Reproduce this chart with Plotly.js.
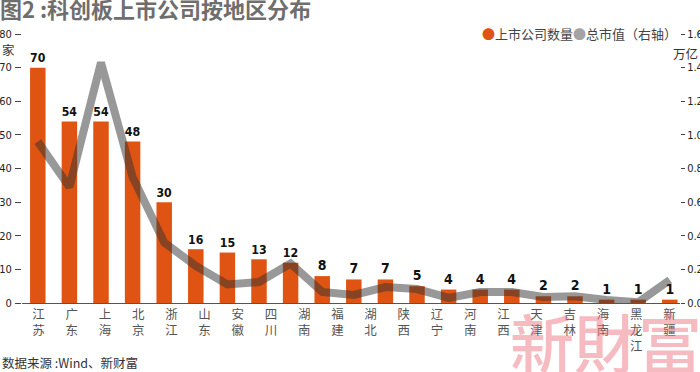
<!DOCTYPE html>
<html>
<head>
<meta charset="utf-8">
<script src="https://cdn.plot.ly/plotly-3.0.1.min.js"></script>
<style>
  html, body { margin: 0; padding: 0; background: #fff; }
  #chart { width: 700px; height: 372px; }
</style>
</head>
<body>
<div id="chart"></div>
<script>
// ---- Data ----
const regions = ['江苏','广东','上海','北京','浙江','山东','安徽','四川','湖南','福建','湖北','陕西','辽宁','河南','江西','天津','吉林','海南','黑龙江','新疆'];
const companyCounts = [70, 54, 54, 48, 30, 16, 15, 13, 12, 8, 7, 7, 5, 4, 4, 4, 2, 2, 1, 1, 1];
const marketCap = [0.96, 0.69, 1.43, 0.75, 0.36, 0.22, 0.11, 0.125, 0.235, 0.066, 0.048, 0.095, 0.083, 0.03, 0.065, 0.065, 0.036, 0.04, 0.018, 0.004, 0.137];
const seriesNames = ['上市公司数量', '总市值（右轴）'];
const leftTicks = [0, 10, 20, 30, 40, 50, 60, 70, 80];
const rightTicks = [0, 0.2, 0.4, 0.6, 0.8, 1.0, 1.2, 1.4, 1.6];

// ---- Layout helpers (pixel -> paper) ----
const W = 700, H = 372;
const M = { l: 22, r: 20, t: 34, b: 69 };
const PW = W - M.l - M.r, PH = H - M.t - M.b;
const px = x => (x - M.l) / PW;
const py = y => (H - M.b - y) / PH;

const NARROW = 'DejaVu Sans Condensed, Liberation Sans Narrow, Arial Narrow, sans-serif';
const CJK = 'Noto Sans CJK SC, sans-serif';

const barIdx = companyCounts.map((_, i) => i);

const traces = [
  {
    type: 'bar',
    x: barIdx,
    y: companyCounts,
    name: seriesNames[0],
    width: 0.49,
    marker: { color: '#df5412' },
    text: companyCounts.map(String),
    textposition: 'outside',
    cliponaxis: false,
    textfont: { family: NARROW, size: 14, color: '#111', weight: 'bold' },
    xaxis: 'x', yaxis: 'y',
    showlegend: false,
    hoverinfo: 'skip'
  },
  {
    type: 'scatter',
    mode: 'lines',
    x: barIdx,
    y: marketCap,
    name: seriesNames[1],
    line: { color: 'rgba(50,50,50,0.5)', width: 8 },
    xaxis: 'x', yaxis: 'y2',
    showlegend: false,
    hoverinfo: 'skip'
  },
  {
    // carries the region tick labels on the label axis
    type: 'scatter',
    mode: 'markers',
    x: regions,
    y: regions.map(() => 0),
    marker: { opacity: 0, size: 1 },
    xaxis: 'x2', yaxis: 'y',
    showlegend: false,
    hoverinfo: 'skip'
  }
];

const tickFont = { family: NARROW, size: 11, color: '#222' };

// range chosen so bar spacing ~31.6px, label spacing ~33.2px
const xMax = -0.5 + PW / 31.6;
const x2Max = -0.5 + PW / 33.2;

const layout = {
  width: W, height: H,
  margin: M,
  paper_bgcolor: '#fff',
  plot_bgcolor: 'rgba(0,0,0,0)',
  showlegend: false,
  title: {
    text: '<b>图2 :科创板上市公司按地区分布</b>',
    font: { family: CJK, size: 22, color: '#6e6e6e' },
    x: 0, xref: 'container', xanchor: 'left',
    y: 0.994, yref: 'container', yanchor: 'top',
    pad: { t: 0, l: 0 }
  },
  xaxis: {
    type: 'linear',
    range: [-0.5, xMax],
    showticklabels: false,
    ticks: '',
    showgrid: false,
    zeroline: false,
    showline: true,
    linecolor: '#555',
    linewidth: 1,
    fixedrange: true
  },
  xaxis2: {
    type: 'category',
    overlaying: 'x',
    anchor: 'y',
    side: 'bottom',
    range: [-0.5, x2Max],
    tickvals: regions,
    ticktext: regions.map(r => r.split('').join('<br>')),
    tickfont: { family: CJK, size: 12.5, color: '#555' },
    ticks: '',
    ticklabelstandoff: 2,
    showgrid: false,
    zeroline: false,
    showline: false
  },
  yaxis: {
    range: [0, 80],
    tickvals: leftTicks,
    ticktext: leftTicks.map(String),
    ticks: 'outside',
    ticklen: 6,
    tickwidth: 1,
    tickcolor: '#444',
    ticklabelstandoff: 1,
    tickfont: tickFont,
    showgrid: false,
    zeroline: false,
    showline: false
  },
  yaxis2: {
    overlaying: 'y',
    side: 'right',
    anchor: 'x',
    range: [0, 1.6],
    tickvals: rightTicks,
    ticktext: rightTicks.map(v => v.toFixed(1)),
    ticks: 'outside',
    ticklen: 4,
    tickwidth: 1,
    tickcolor: '#444',
    ticklabelstandoff: 0,
    tickfont: tickFont,
    showgrid: false,
    zeroline: false,
    showline: false
  },
  annotations: [
    {
      text: '新財富',
      xref: 'paper', yref: 'paper',
      x: px(508), y: py(292), xanchor: 'left', yanchor: 'top',
      showarrow: false,
      font: { family: 'Noto Sans CJK TC, sans-serif', size: 64, color: 'rgba(236,110,125,0.48)', weight: 500 }
    },
    {
      text: '<span style="color:#df5412">●</span>' + seriesNames[0] + '<span style="color:#a3a3a3">●</span>' + seriesNames[1],
      xref: 'paper', yref: 'paper',
      x: px(679), y: py(33), xanchor: 'right', yanchor: 'middle',
      showarrow: false,
      font: { family: CJK, size: 13, color: '#444' }
    },
    {
      text: '家',
      xref: 'paper', yref: 'paper',
      x: px(0), y: py(50), xanchor: 'left', yanchor: 'middle',
      showarrow: false,
      font: { family: CJK, size: 12.5, color: '#333' }
    },
    {
      text: '万亿',
      xref: 'paper', yref: 'paper',
      x: px(700), y: py(53), xanchor: 'right', yanchor: 'middle',
      showarrow: false,
      font: { family: CJK, size: 12.5, color: '#333' }
    },
    {
      text: '数据来源 :Wind、新财富',
      xref: 'paper', yref: 'paper',
      x: px(0), y: py(362), xanchor: 'left', yanchor: 'middle',
      showarrow: false,
      font: { family: CJK, size: 12.5, color: '#333' }
    }
  ]
};

Plotly.newPlot('chart', traces, layout, { staticPlot: true, displayModeBar: false });
</script>
</body>
</html>
